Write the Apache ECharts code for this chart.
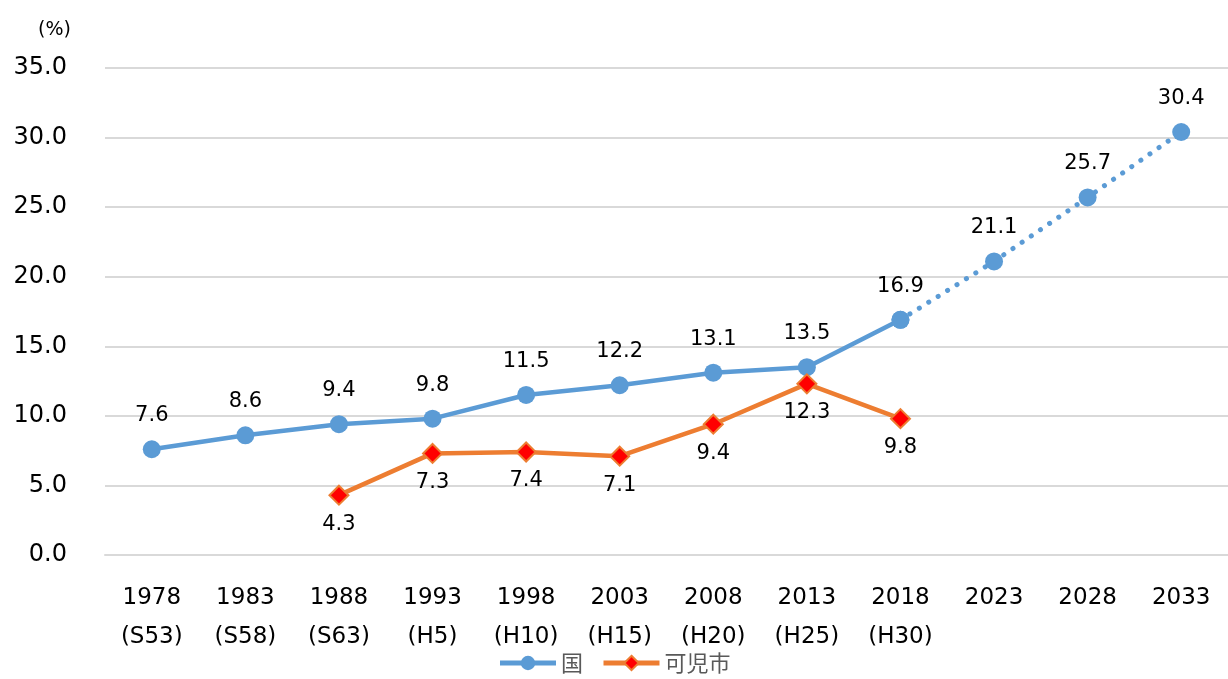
<!DOCTYPE html>
<html>
<head>
<meta charset="utf-8">
<script src="https://cdn.jsdelivr.net/npm/echarts@6/dist/echarts.min.js"></script>
<style>
  html, body { margin: 0; padding: 0; background: #fff; }
  #chart { width: 1228px; height: 679px; }
</style>
</head>
<body>
<div id="chart"></div>
<script>
// categories (year + era name)
const years = ['1978', '1983', '1988', '1993', '1998', '2003', '2008', '2013', '2018', '2023', '2028', '2033'];
const eras = ['S53', 'S58', 'S63', 'H5', 'H10', 'H15', 'H20', 'H25', 'H30', '', '', ''];

// national values: actual up to 2018, projection afterwards
const kuni = [7.6, 8.6, 9.4, 9.8, 11.5, 12.2, 13.1, 13.5, 16.9, null, null, null];
const kuniProjection = [null, null, null, null, null, null, null, null, 16.9, 21.1, 25.7, 30.4];
// Kani city
const kani = [null, null, 4.3, 7.3, 7.4, 7.1, 9.4, 12.3, 9.8, null, null, null];

const yTicks = { min: 0, max: 35, interval: 5 };

const blue = '#5B9BD5';
const orange = '#ED7D31';
const font = '"DejaVu Sans", "Noto Sans CJK JP", sans-serif';
const jpFont = '"Noto Sans CJK JP", sans-serif';

const categories = years.map((y, i) => eras[i] ? y + '\n(' + eras[i] + ')' : y);

const chart = echarts.init(document.getElementById('chart'));

chart.setOption({
    animation: false,
    textStyle: { fontFamily: font },
    grid: { left: 105, right: 0, top: 68, bottom: 124 },
    legend: {
        data: ['国', '可児市'],
        bottom: 0,
        left: 'center',
        itemWidth: 56,
        itemHeight: 18,
        itemGap: 18,
        lineStyle: { width: 5 },
        textStyle: { fontSize: 22, color: '#595959', fontFamily: jpFont }
    },
    xAxis: {
        type: 'category',
        data: categories,
        boundaryGap: true,
        axisLine: { show: true, lineStyle: { color: '#d9d9d9', width: 2 } },
        axisTick: { show: false },
        axisLabel: {
            fontSize: 23,
            color: '#000',
            lineHeight: 39,
            margin: 24,
            interval: 0,
            verticalAlign: 'top'
        }
    },
    yAxis: {
        type: 'value',
        min: yTicks.min,
        max: yTicks.max,
        interval: yTicks.interval,
        name: '(%)',
        nameLocation: 'end',
        nameGap: 28,
        nameTextStyle: { fontSize: 19, color: '#000', align: 'right', padding: [0, 34, 0, 0] },
        axisLine: { show: false },
        axisTick: { show: false },
        splitLine: { lineStyle: { color: '#d9d9d9', width: 2 } },
        axisLabel: {
            fontSize: 24,
            color: '#000',
            margin: 38,
            formatter: v => v.toFixed(1)
        }
    },
    series: [
        {
            name: '国',
            type: 'line',
            data: kuni,
            symbol: 'circle',
            symbolSize: 18,
            lineStyle: { color: blue, width: 4.5 },
            itemStyle: { color: blue },
            label: {
                show: true,
                position: 'top',
                distance: 14,
                fontSize: 21,
                color: '#000',
                formatter: p => p.value.toFixed(1)
            },
            z: 3
        },
        {
            name: '国予測',
            type: 'line',
            data: kuniProjection,
            symbol: 'circle',
            symbolSize: 18,
            lineStyle: { color: blue, width: 5, type: [0.1, 11], cap: 'round' },
            itemStyle: { color: blue },
            label: {
                show: true,
                position: 'top',
                distance: 14,
                fontSize: 21,
                color: '#000',
                formatter: p => p.dataIndex === 8 ? '' : p.value.toFixed(1)
            },
            z: 2
        },
        {
            name: '可児市',
            type: 'line',
            data: kani,
            symbol: 'diamond',
            symbolSize: 19,
            lineStyle: { color: orange, width: 4.5 },
            itemStyle: { color: '#FF0000', borderColor: orange, borderWidth: 2 },
            label: {
                show: true,
                position: 'bottom',
                distance: 8,
                fontSize: 21,
                color: '#000',
                formatter: p => p.value.toFixed(1)
            },
            z: 4
        }
    ]
});
</script>
</body>
</html>
